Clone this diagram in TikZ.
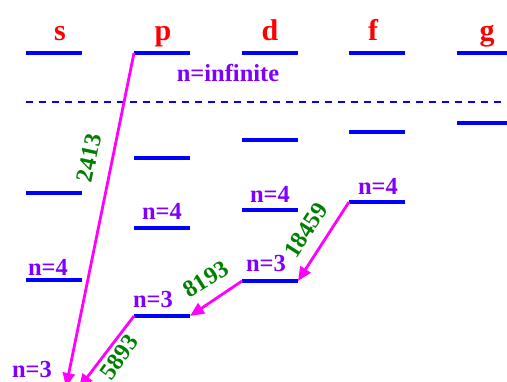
\documentclass[tikz,border=0pt]{standalone}
\usepackage{fontspec}
\setmainfont{Liberation Serif}
\usepackage{tikz}
\usetikzlibrary{arrows.meta}
\definecolor{nviolet}{RGB}{127,0,255}
\definecolor{lgreen}{RGB}{0,128,0}
\definecolor{tmagenta}{RGB}{255,0,255}
\definecolor{lblue}{RGB}{0,0,255}

\begin{document}
\begin{tikzpicture}[x=1pt, y=-1pt,
    level/.style={lblue, line width=3.3pt},
    trans/.style={tmagenta, line width=2.8pt, -{Triangle[length=14pt, width=12pt]}},
    orb/.style={red, font=\fontsize{30}{30}\selectfont\bfseries, anchor=base, inner sep=0pt},
    nlab/.style={nviolet, font=\fontsize{24.5}{24.5}\selectfont\bfseries, inner sep=0pt},
    wave/.style={lgreen, font=\fontsize{24}{24}\selectfont\bfseries, inner sep=0pt}]
    \useasboundingbox (0,0) rectangle (507,381);
    \clip (0,0) rectangle (507,381);
    \def\w{56}

    % Orbital names
    \foreach \t/\x in {s/60, p/163, d/270, f/373, g/487}
        \node[orb] (orb\t) at (\x,40) {\t};

    % Levels
    \foreach \n/\x/\y in {sinf/26/53, s5/26/193, s4/26/280,
                          pinf/134/53, p5/134/158, p4/134/228, p3/134/316,
                          dinf/242/53, d5/242/140, d4/242/210, d3/242/281,
                          finf/349/53, f5/349/132, f4/349/202,
                          ginf/457/53, g5/457/123}
        \draw[level] (\x,\y) coordinate (l\n) -- ++(\w,0) coordinate (r\n);

    % Series limit
    \draw[lblue, line width=1.8pt, dash pattern=on 7pt off 6pt] (26,102) -- (507,102);
    \node[nlab] (ninf) at (228,73) {n=infinite};

    % n labels
    \foreach \n/\x/\y/\t in {s4/48/267/4, s3/32/370/3, p4/162/211/4, p3/153/300/3,
                             d4/270/194/4, d3/266/264/3, f4/378/186/4}
        \node[nlab] (n\n) at (\x,\y) {n=\t};

    % ground level ends (below the frame)
    \coordinate (ls3) at (66,387);
    \coordinate (rs3) at (79,388);

    % Transitions
    \draw[trans] (lpinf) -- (ls3);
    \draw[trans] (lf4) -- (rd3);
    \draw[trans] (ld3) -- (rp3);
    \draw[trans] (lp3) -- (rs3);

    % Wavelengths
    \foreach \n/\x/\y/\a/\t in {a/89/158/78/2413, b/306/230/57/18459,
                                c/206/279/32/8193, d/119/357/54/5893}
        \node[wave, rotate=\a] (wl\n) at (\x,\y) {\t};
\end{tikzpicture}
\end{document}
